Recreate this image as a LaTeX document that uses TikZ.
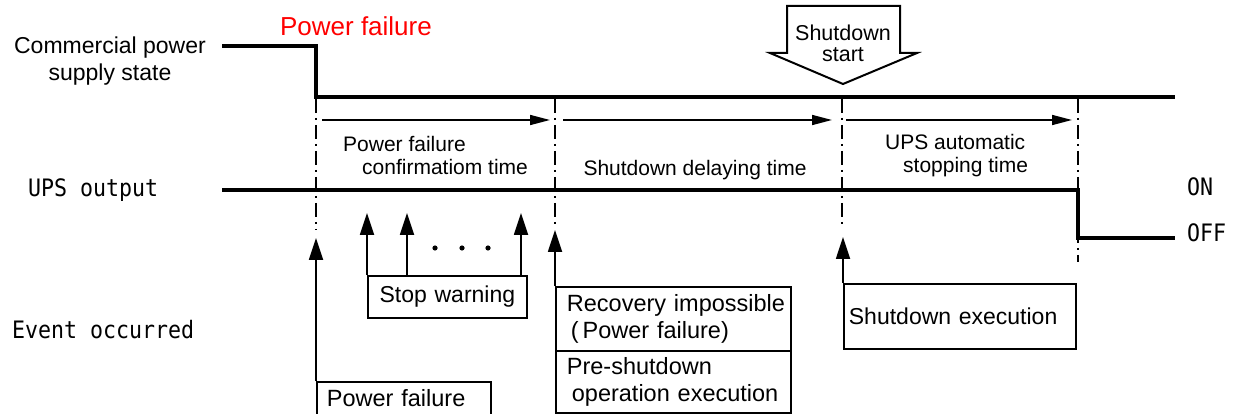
\documentclass[tikz,border=0pt]{standalone}
\usepackage{fontspec}
\setmainfont{Liberation Sans}
\newfontfamily\gothic[FakeStretch=0.9]{DejaVu Sans Mono}
\usetikzlibrary{arrows.meta}
\tikzset{
  sig/.style={line width=4pt},
  vdash/.style={line width=1.8pt, dash pattern=on 14pt off 5pt on 2pt off 5pt},
  evarrow/.style={line width=1.8pt, -{Triangle[length=22pt,width=14pt]}},
  spanarrow/.style={line width=1.6pt, -{Triangle[length=20pt,width=10pt]}},
  ebox/.style={draw, line width=1.8pt, anchor=north west, inner xsep=5pt, inner ysep=0pt, font=\fontsize{23}{26}\selectfont},
  lbl/.style={font=\fontsize{23}{27}\selectfont, inner sep=0pt},
  tlbl/.style={font=\fontsize{21}{23}\selectfont, inner sep=0pt},
  mono/.style={font=\gothic\fontsize{24}{26}\selectfont, inner sep=0pt}
}
\begin{document}
\begin{tikzpicture}[x=1pt,y=-1pt]
\useasboundingbox (0,0) rectangle (1240,414);

% labels
\node[lbl, align=center] (cps) at (110,61) {Commercial power\\supply state};
\node[lbl, text=red, font=\fontsize{26}{28}\selectfont] (pfred) at (356,26) {Power failure};
\node[mono, anchor=west] (upso) at (28,190) {UPS output};
\node[mono, anchor=west] (evoc) at (12,330) {Event occurred};
\node[mono, anchor=west] (on) at (1187,187) {ON};
\node[mono, anchor=west] (off) at (1187,233) {OFF};

% commercial power signal
\coordinate (c0) at (222,46);
\coordinate (c1) at (316,46);
\coordinate (c2) at (316,97);
\coordinate (c3) at (1175,97);
\draw[sig] (c0) -- (c1) -- (c2) -- (c3);

% UPS output signal
\coordinate (u0) at (222,190);
\coordinate (u1) at (1078,190);
\coordinate (u2) at (1078,238);
\coordinate (u3) at (1175,238);
\draw[sig] (u0) -- (u1) -- (u2) -- (u3);

% dashed vertical markers
\coordinate (d1a) at (316,99); \coordinate (d1b) at (316,230);
\coordinate (d2a) at (555,99); \coordinate (d2b) at (555,228);
\coordinate (d3a) at (842,99); \coordinate (d3b) at (842,228);
\coordinate (d4a) at (1078,99); \coordinate (d4b) at (1078,262);
\draw[vdash] (d1a) -- (d1b);
\draw[vdash] (d2a) -- (d2b);
\draw[vdash] (d3a) -- (d3b);
\draw[vdash] (d4a) -- (d4b);

% time spans
\coordinate (s1a) at (322,120); \coordinate (s1b) at (550,120);
\coordinate (s2a) at (563,120); \coordinate (s2b) at (832,120);
\coordinate (s3a) at (846,120); \coordinate (s3b) at (1072,120);
\draw[spanarrow] (s1a) -- (s1b);
\draw[spanarrow] (s2a) -- (s2b);
\draw[spanarrow] (s3a) -- (s3b);
\node[tlbl, align=left, anchor=west] (t1) at (343,155) {Power failure\\\hspace*{19pt}confirmatiom time};
\node[tlbl] (t2) at (695,170) {Shutdown delaying time};
\node[tlbl, align=left, anchor=west] (t3) at (885,156) {UPS automatic\\\hspace*{18pt}stopping time};

% shutdown start block arrow
\coordinate (b1) at (787,6);
\coordinate (b2) at (900,6);
\coordinate (b3) at (900,53);
\coordinate (b4) at (917,53);
\coordinate (b5) at (843,84);
\coordinate (b6) at (770,53);
\coordinate (b7) at (787,53);
\draw[line width=2pt, fill=white, line join=miter] (b1) -- (b2) -- (b3) -- (b4) -- (b5) -- (b6) -- (b7) -- cycle;
\node[inner sep=0pt, font=\fontsize{21.5}{22}\selectfont] (sds1) at (843,33) {Shutdown};
\node[inner sep=0pt, font=\fontsize{21.5}{22}\selectfont] (sds2) at (843,55) {start};

% event boxes
\node[ebox, inner xsep=10pt, minimum width=174pt, minimum height=33pt, text width=154pt, align=left, font=\fontsize{23.5}{26}\selectfont] (pfbox) at (316,381) {Power failure};
\node[ebox, minimum width=159pt, minimum height=42pt, text width=149pt, align=center] (swbox) at (367,275) {Stop warning};
\node[ebox, inner xsep=5pt, minimum width=235pt, minimum height=64pt, text width=225pt, align=left, font=\fontsize{23.5}{27}\selectfont] (ribox) at (555,286) {\hspace*{6pt}Recovery impossible\\\hspace*{10pt}(\,Power failure)};
\node[ebox, inner xsep=5pt, minimum width=235pt, minimum height=62pt, text width=225pt, align=left, font=\fontsize{23.5}{27}\selectfont] (psbox) at (555,350) {\hspace*{6pt}Pre-shutdown\\\hspace*{11pt}operation execution};
\node[ebox, minimum width=232pt, minimum height=65pt, text width=222pt, align=left] (sebox) at (843,283) {Shutdown execution};

% event arrows
\coordinate (e1) at (316,238);
\coordinate (w1) at (367,213);
\coordinate (w2f) at (407,275); \coordinate (w2) at (407,213);
\coordinate (w3f) at (521,275); \coordinate (w3) at (521,213);
\coordinate (e2) at (555,230);
\coordinate (e3) at (843,237);
\draw[evarrow] (pfbox.north west) -- (e1);
\draw[evarrow] (swbox.north west) -- (w1);
\draw[evarrow] (w2f) -- (w2);
\draw[evarrow] (w3f) -- (w3);
\draw[evarrow] (ribox.north west) -- (e2);
\draw[evarrow] (sebox.north west) -- (e3);

% dots
\fill (435,248) circle (2.6pt);
\fill (462,248) circle (2.6pt);
\fill (488,248) circle (2.6pt);
\end{tikzpicture}
\end{document}
